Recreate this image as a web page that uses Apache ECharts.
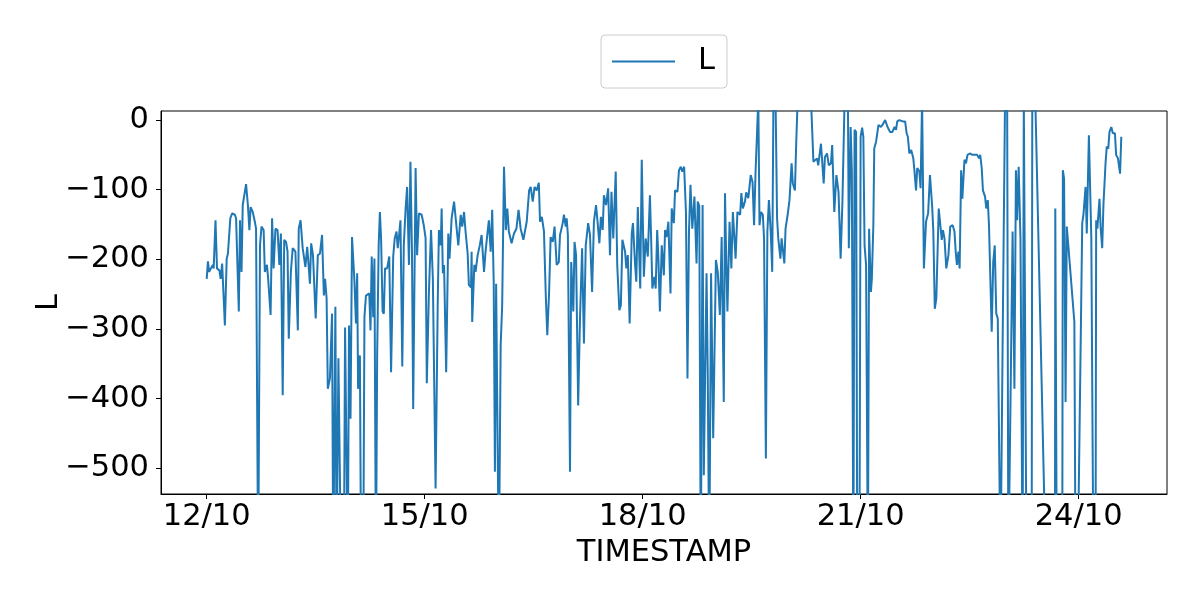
<!DOCTYPE html>
<html>
<head>
<meta charset="utf-8">
<script src="https://cdn.jsdelivr.net/npm/echarts@6/dist/echarts.min.js"></script>
<style>
html,body{margin:0;padding:0;background:#fff;}
#chart{width:1200px;height:600px;}
</style>
</head>
<body>
<div id="chart"></div>
<script>
// Hours since 12/10 00:00
const hours = [
0.0,0.4,0.8,1.2,2.0,2.3,2.9,3.4,4.2,4.6,5.1,5.6,6.0,6.6,7.0,7.8,8.4,9.3,9.7,10.6,
11.0,11.5,11.9,12.3,13.0,13.6,14.1,14.5,15.2,15.9,16.3,17.0,17.6,18.1,18.8,19.2,19.9,20.3,21.1,21.6,
22.1,22.7,23.4,24.0,24.5,25.1,25.6,26.2,26.7,27.1,27.8,28.4,29.3,30.1,30.4,31.0,31.7,32.6,33.2,34.1,
34.5,35.1,36.0,36.7,37.4,38.1,38.7,39.1,39.6,40.0,40.7,41.4,41.8,42.5,42.9,43.5,44.4,45.3,45.7,46.2,
46.6,47.0,47.5,48.0,48.8,49.3,49.7,50.0,50.6,51.0,51.7,52.1,52.6,53.2,53.7,54.1,54.5,55.0,55.4,55.9,
56.3,56.8,57.2,57.6,58.1,58.5,58.9,59.6,60.3,60.9,61.6,62.1,62.7,63.1,63.6,64.0,64.6,65.1,65.7,66.2,
66.8,67.3,67.8,68.2,69.0,69.5,70.1,71.0,71.7,72.3,72.7,73.4,74.1,74.7,75.6,76.3,76.7,77.3,77.6,78.0,
78.4,79.1,79.8,80.2,80.9,81.7,82.2,83.1,83.9,84.4,85.0,85.5,86.2,86.6,87.3,87.5,87.7,88.4,88.8,89.5,
90.2,90.8,91.6,92.1,92.8,93.2,93.8,94.3,94.8,95.2,95.6,96.1,96.5,97.1,97.6,98.2,98.8,99.3,99.8,100.7,
101.5,102.3,103.0,103.7,104.6,105.7,106.5,107.0,107.7,108.3,109.0,109.7,110.1,110.7,111.4,112.0,112.5,113.1,113.6,114.3,
114.9,115.6,116.3,116.7,117.6,118.0,118.6,118.9,119.3,120.0,120.4,121.1,121.5,122.0,122.7,123.3,124.0,124.6,125.2,126.0,
126.6,127.3,127.9,128.6,129.3,129.7,130.2,130.8,131.2,131.9,132.6,133.2,133.7,134.3,135.1,135.6,136.3,136.8,137.3,138.2,
138.6,139.1,139.7,140.4,140.8,141.5,141.9,142.4,143.2,143.7,144.4,145.0,145.7,146.4,146.8,147.2,147.9,148.3,148.8,149.2,
149.7,150.3,151.0,151.4,151.9,152.5,153.2,153.6,154.3,154.7,155.5,156.0,156.6,157.1,157.7,158.3,158.8,159.3,159.8,160.4,
161.1,161.8,162.2,162.7,163.2,163.8,164.2,165.1,165.5,166.0,166.6,167.3,168.2,168.8,169.5,170.1,170.8,171.2,171.6,172.0,
172.7,173.3,173.8,174.7,175.3,176.2,176.6,177.1,177.8,178.2,178.9,179.7,180.3,180.8,181.3,181.9,182.2,182.6,183.1,183.7,
184.1,184.7,185.2,185.7,186.3,186.8,187.2,187.9,188.4,188.8,189.5,189.9,190.8,191.2,191.9,192.5,193.2,193.6,194.3,194.7,
195.2,196.7,198.4,199.6,200.4,200.9,201.6,202.0,202.9,203.8,204.2,204.9,205.5,206.2,206.6,207.3,208.0,208.7,209.4,210.0,
210.7,211.8,212.1,212.7,213.1,213.6,214.0,214.5,214.9,215.6,216.0,216.5,216.9,217.3,217.8,218.4,218.8,219.4,219.7,220.2,
220.5,221.1,221.9,222.7,223.2,224.1,224.9,225.7,226.5,227.2,227.7,228.1,228.8,229.9,230.7,231.2,231.6,232.1,232.7,233.4,
233.8,234.3,234.7,235.4,235.8,236.3,236.5,236.9,237.6,238.3,238.9,239.6,240.0,240.5,241.0,241.8,242.4,242.8,243.2,243.7,
244.3,245.0,245.6,246.4,247.0,247.4,247.8,248.3,248.7,249.2,249.6,250.3,250.8,251.3,252.2,252.9,253.6,254.5,255.1,255.5,
256.0,256.4,257.1,257.5,258.0,258.4,258.9,259.3,259.8,260.3,260.8,261.3,262.2,262.6,262.9,263.7,264.4,264.8,265.2,266.2,
266.6,266.8,267.3,267.7,268.2,268.8,269.5,269.9,270.4,270.8,272.5,272.7,273.7,277.2,280.2,280.3,280.8,282.6,282.8,283.2,
283.7,284.1,284.6,286.6,287.0,287.7,289.2,289.6,290.3,290.7,291.4,292.2,292.9,293.6,293.8,294.2,294.9,295.3,295.8,296.2,
296.9,297.3,297.8,298.2,298.8,299.3,300.0,300.4,301.0,301.7,302.1
];
const values = [
-228,-203,-218,-216,-208,-213,-144,-213,-216,-228,-206,-204,-295,-199,-192,-141,-134,-136,-141,-275,
-144,-218,-122,-122,-92,-122,-158,-125,-132,-146,-156,-650,-180,-153,-158,-218,-208,-228,-280,-141,
-213,-156,-158,-208,-163,-395,-172,-175,-189,-314,-218,-184,-189,-302,-156,-144,-184,-211,-182,-235,
-177,-194,-285,-194,-192,-165,-252,-228,-256,-386,-371,-278,-650,-268,-650,-342,-650,-650,-298,-299,
-650,-295,-429,-168,-232,-292,-220,-386,-338,-650,-650,-283,-252,-252,-249,-302,-196,-283,-199,-650,
-338,-180,-132,-170,-275,-278,-213,-213,-196,-362,-196,-170,-160,-184,-163,-144,-354,-180,-127,-96,
-208,-60,-190,-415,-69,-194,-134,-136,-151,-170,-378,-247,-158,-228,-529,-266,-158,-180,-127,-220,
-208,-362,-163,-199,-141,-117,-115,-180,-136,-153,-132,-160,-192,-237,-240,-189,-290,-208,-218,-194,
-180,-165,-218,-189,-160,-144,-189,-129,-232,-505,-235,-237,-650,-323,-266,-67,-158,-127,-160,-177,
-163,-156,-129,-156,-172,-146,-101,-96,-117,-96,-101,-90,-146,-139,-160,-252,-309,-247,-168,-175,
-153,-208,-204,-165,-148,-136,-153,-141,-165,-505,-204,-275,-175,-194,-410,-285,-184,-321,-180,-148,
-165,-247,-146,-122,-156,-177,-139,-158,-108,-122,-98,-194,-103,-170,-74,-208,-273,-266,-172,-189,
-213,-194,-292,-163,-148,-208,-232,-125,-242,-57,-225,-170,-196,-108,-170,-242,-225,-242,-158,-199,
-275,-180,-223,-158,-168,-146,-249,-127,-148,-101,-103,-72,-67,-74,-67,-132,-371,-160,-93,-156,
-110,-206,-117,-124,-650,-122,-510,-220,-362,-650,-220,-457,-201,-218,-280,-168,-405,-105,-199,-275,
-146,-213,-132,-199,-132,-136,-105,-127,-117,-104,-112,-79,-89,-151,-74,-72,30,-151,-132,-136,
-170,-486,-160,-115,-160,-218,30,30,-141,-170,-199,-170,-206,-156,-136,-115,-62,-91,-101,-36,
30,50,50,30,-60,-62,-55,-65,-34,-91,-53,-48,-65,-62,-36,-132,-79,-103,-199,-115,
30,30,-184,-10,-74,-650,-14,-17,-650,-650,-24,-11,-24,-180,-208,-650,-156,-247,-228,-151,
-41,-31,-7,-10,-7,0,-10,-17,-17,-10,-14,-2,0,-2,-2,-19,-24,-48,-43,-55,
-74,-101,-69,-74,-98,30,30,-213,-146,-134,-79,-122,-158,-271,-256,-127,-127,-172,-158,-170,
-213,-194,-153,-151,-160,-189,-208,-189,-213,-72,-113,-57,-62,-50,-48,-50,-50,-50,-55,-50,
-69,-101,-110,-127,-115,-151,-151,-304,-204,-180,-278,-285,-650,-650,-323,30,30,-650,-650,-160,
-160,-386,-72,-144,-67,-170,-650,30,30,-650,-650,30,30,-650,-650,-127,-650,-650,-72,-84,
-405,-153,-180,-290,-650,-650,-148,-136,-96,-163,-22,-170,-650,-650,-144,-156,-113,-156,-184,-122,
-62,-38,-41,-17,-10,-19,-19,-50,-55,-77,-24
];
const tickHours = [0, 72, 144, 216, 288];
const tickLabels = ['12/10', '15/10', '18/10', '21/10', '24/10'];
const yTicks = [-500, -400, -300, -200, -100, 0];
const seriesName = 'L';

const data = hours.map((h, i) => [h, values[i]]);
const FONT = 'DejaVu Sans';
const FS = 30.5;
const chart = echarts.init(document.getElementById('chart'), null, {renderer: 'canvas'});
chart.setOption({
  animation: false,
  backgroundColor: '#ffffff',
  grid: {left: 161, right: 33, top: 111, bottom: 106, show: true, borderColor: '#000', borderWidth: 1, backgroundColor: 'transparent'},
  legend: {
    top: 35, left: 601,
    data: [{name: seriesName, icon: 'rect'}],
    itemWidth: 63, itemHeight: 2,
    padding: [11, 12, 11, 11],
    borderColor: '#cccccc', borderWidth: 1, borderRadius: 4,
    textStyle: {fontFamily: FONT, fontSize: FS, color: '#000', padding: [0, 0, 0, 18]}
  },
  xAxis: {
    type: 'value', min: -15.1, max: 317.2,
    name: 'TIMESTAMP', nameLocation: 'middle', nameGap: 44, nameMoveOverlap: false,
    nameTextStyle: {fontFamily: FONT, fontSize: FS, color: '#000'},
    axisLine: {show: true, onZero: false, lineStyle: {color: '#000', width: 1}},
    axisTick: {show: true, length: 5, lineStyle: {color: '#000'}, customValues: tickHours},
    axisLabel: {fontFamily: FONT, fontSize: FS, color: '#000', margin: 8, customValues: tickHours,
      formatter: v => { const i = tickHours.indexOf(v); return i >= 0 ? tickLabels[i] : ''; }},
    splitLine: {show: false}
  },
  yAxis: {
    type: 'value', min: -537, max: 13,
    name: 'L', nameLocation: 'middle', nameGap: 96, nameRotate: 90, nameMoveOverlap: false,
    nameTextStyle: {fontFamily: FONT, fontSize: FS, color: '#000'},
    axisLine: {show: true, onZero: false, lineStyle: {color: '#000', width: 1}},
    axisTick: {show: true, length: 5, lineStyle: {color: '#000'}, customValues: yTicks},
    axisLabel: {fontFamily: FONT, fontSize: FS, color: '#000', margin: 12, customValues: yTicks,
      formatter: v => v < 0 ? '\u2212' + Math.abs(v) : String(v)},
    splitLine: {show: false}
  },
  series: [{
    name: seriesName, type: 'line', data: data,
    showSymbol: false, symbol: 'none', clip: true,
    lineStyle: {color: '#1f77b4', width: 2},
    itemStyle: {color: '#1f77b4'}
  }]
});
</script>
</body>
</html>
